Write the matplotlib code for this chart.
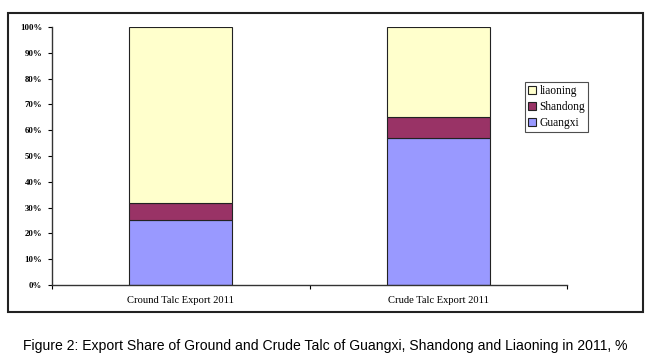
import matplotlib
matplotlib.use('Agg')
import numpy as np
from matplotlib import pyplot as plt
from matplotlib.patches import Rectangle
from matplotlib.ticker import FuncFormatter

categories = ['Cround Talc Export 2011', 'Crude Talc Export 2011']
guangxi = [25.3, 56.8]
shandong = [6.4, 8.4]
liaoning = [68.3, 34.8]
yticks = [0, 10, 20, 30, 40, 50, 60, 70, 80, 90, 100]

caption = 'Figure 2: Export Share of Ground and Crude Talc of Guangxi, Shandong and Liaoning in 2011, %'

fig = plt.figure(figsize=(6.57, 3.62), dpi=100)

# outer chart frame
fig.patches.append(Rectangle((8/657, 1-312/362), 635/657, 299/362,
                             transform=fig.transFigure, fill=False,
                             edgecolor='#222222', linewidth=1.5))

ax = fig.add_axes([52/657, 1-285/362, 515/657, 258/362])

x = np.arange(len(categories))
w = 0.4
ax.bar(x, guangxi, w, color='#9999FF', edgecolor='#222222', linewidth=0.8, label='Guangxi')
ax.bar(x, shandong, w, bottom=guangxi, color='#993366', edgecolor='#222222', linewidth=0.8, label='Shandong')
bottom2 = np.array(guangxi) + np.array(shandong)
ax.bar(x, liaoning, w, bottom=bottom2, color='#FFFFCC', edgecolor='#222222', linewidth=0.8, label='liaoning')

ax.set_xlim(-0.5, 1.5)
ax.set_ylim(0, 100)
ax.set_yticks(yticks)
ax.yaxis.set_major_formatter(FuncFormatter(lambda v, p: '%d%%' % v))
for lab in ax.get_yticklabels():
    lab.set_fontfamily('Liberation Serif')
    lab.set_fontsize(6.3)
    lab.set_fontweight('bold')

ax.set_xticks(x)
ax.set_xticklabels(categories, fontfamily='Liberation Serif', fontsize=7.6)
ax.set_xticks([-0.5, 0.5, 1.5], minor=True)
ax.tick_params(axis='x', which='major', length=0, pad=8)
ax.tick_params(axis='x', which='minor', length=3, direction='out', width=0.8)
ax.tick_params(axis='y', length=3, direction='out', width=0.8, pad=4)

for s in ['top', 'right']:
    ax.spines[s].set_visible(False)
for s in ['left', 'bottom']:
    ax.spines[s].set_color('#333333')
    ax.spines[s].set_linewidth(1.0)

handles, labels = ax.get_legend_handles_labels()
leg = ax.legend(handles[::-1], labels[::-1], loc='upper left',
                bbox_to_anchor=((525-52)/515, (285-82)/258),
                prop={'family': 'Liberation Serif', 'size': 8.3},
                frameon=True, fancybox=False, edgecolor='#222222',
                handlelength=0.7, handleheight=0.7, handletextpad=0.3,
                borderpad=0.25, labelspacing=0.35, borderaxespad=0)
leg.get_frame().set_linewidth(0.8)

fig.text(325/657, 1-346/362, caption, ha='center', va='center',
         fontfamily='Liberation Sans', fontsize=10.1)

plt.savefig('out.png', dpi=100)
